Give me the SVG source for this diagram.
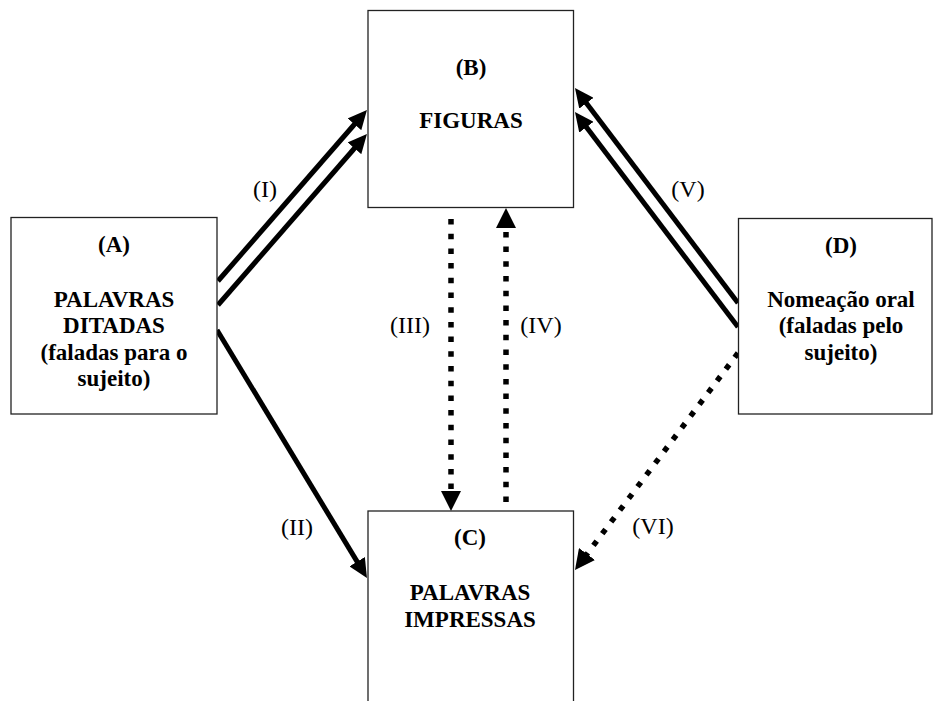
<svg xmlns="http://www.w3.org/2000/svg" width="933" height="701" viewBox="0 0 933 701">
<style>
.box{fill:#fff;stroke:#222;stroke-width:1.3}
.t{font-family:"Liberation Serif","Times New Roman",serif;font-weight:bold;font-size:23px;fill:#000;text-anchor:middle}
.lbl{font-family:"Liberation Serif","Times New Roman",serif;font-size:24px;fill:#000;text-anchor:middle}
.solid{stroke:#000;stroke-width:5;fill:none;marker-end:url(#hs)}
.dot{stroke:#000;stroke-width:5.5;fill:none;stroke-dasharray:5.5 9.2;marker-end:url(#hd)}
</style>
<defs>
<marker id="hs" markerUnits="userSpaceOnUse" markerWidth="20" markerHeight="18" viewBox="0 0 20 18" refX="9" refY="9" orient="auto">
<path d="M0,0 L19,9 L0,18 z" fill="#000"/>
</marker>
<marker id="hd" markerUnits="userSpaceOnUse" markerWidth="20" markerHeight="20" viewBox="0 0 20 20" refX="2" refY="10" orient="auto">
<path d="M0,0 L20,10 L0,20 z" fill="#000"/>
</marker>
</defs>
<rect width="933" height="701" fill="#fff"/>
<g id="connectors">
<line class="solid" x1="218" y1="281" x2="360.4" y2="117.5"/>
<line class="solid" x1="218" y1="305" x2="360.4" y2="141.5"/>
<line class="solid" x1="738" y1="303" x2="581" y2="96"/>
<line class="solid" x1="738" y1="327" x2="581" y2="120"/>
<line class="solid" x1="217" y1="330" x2="361.8" y2="569.4"/>
<line class="dot" x1="451" y1="219" x2="451" y2="493"/>
<line class="dot" x1="506" y1="502" x2="506" y2="226"/>
<line class="dot" x1="738" y1="353" x2="585.8" y2="555.6"/>
</g>
<g id="labels">
<text class="lbl" x="265" y="197">(I)</text>
<text class="lbl" x="297" y="535">(II)</text>
<text class="lbl" x="410" y="333">(III)</text>
<text class="lbl" x="541" y="333">(IV)</text>
<text class="lbl" x="688" y="197">(V)</text>
<text class="lbl" x="653" y="534">(VI)</text>
</g>
<g id="nodeA">
<rect class="box" x="11" y="217.5" width="206" height="196.5"/>
<text class="t" x="114" y="252">(A)</text>
<text class="t" x="114" y="307">PALAVRAS</text>
<text class="t" x="114" y="333">DITADAS</text>
<text class="t" x="114" y="360">(faladas para o</text>
<text class="t" x="114" y="386">sujeito)</text>
</g>
<g id="nodeB">
<rect class="box" x="368" y="10.5" width="205.5" height="197"/>
<text class="t" x="471" y="75">(B)</text>
<text class="t" x="471" y="128">FIGURAS</text>
</g>
<g id="nodeC">
<rect class="box" x="368" y="511" width="205.5" height="200"/>
<text class="t" x="470" y="545">(C)</text>
<text class="t" x="470" y="600">PALAVRAS</text>
<text class="t" x="470" y="627">IMPRESSAS</text>
</g>
<g id="nodeD">
<rect class="box" x="738.5" y="218.5" width="193.5" height="195.5"/>
<text class="t" x="841" y="253">(D)</text>
<text class="t" x="841" y="307">Nomeação oral</text>
<text class="t" x="841" y="333">(faladas pelo</text>
<text class="t" x="841" y="360">sujeito)</text>
</g>
</svg>
